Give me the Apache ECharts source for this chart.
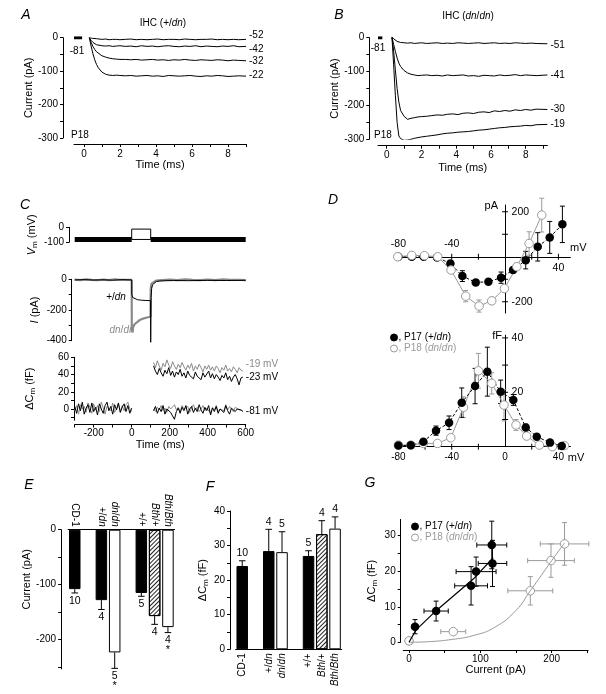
<!DOCTYPE html>
<html><head><meta charset="utf-8">
<script src="https://cdn.jsdelivr.net/npm/echarts@6/dist/echarts.min.js"></script>
<style>html,body{margin:0;padding:0;background:#fff}#c{width:606px;height:694px}</style>
</head><body><div id="c"></div>
<script>
const FF = '"Liberation Sans", Arial, sans-serif';
const BLACK = '#000', GRAY = '#8a8a8a', LGRAY = '#9a9a9a';

// ---------- Panel A (IHC +/dn) ----------
const tA = [0.3,0.4,0.5,0.6,0.7,0.8,1.0,1.2,1.4,1.6,1.8,2.0,2.3,2.6,2.9,3.2,3.5,3.8,4.1,4.4,4.7,5.0,5.3,5.6,5.9,6.2,6.5,6.8,7.1,7.4,7.7,8.0,8.3,8.6,9.0];
const aBaseT = [-0.55,-0.1], aBaseV = [0,0];
const aV52 = [0,-1,-2,-3,-3,-4,-5,-4,-6,-5,-5,-6,-5,-4,-6,-5,-6,-5,-4,-6,-5,-5,-6,-4,-5,-6,-5,-5,-4,-6,-5,-6,-5,-6,-5];
const aV42 = [0,-8,-14,-18,-21,-22,-24,-25,-24,-26,-25,-24,-26,-25,-27,-24,-26,-25,-27,-25,-24,-26,-27,-25,-26,-24,-27,-25,-26,-27,-25,-26,-24,-27,-26];
const aV32 = [0,-14,-26,-35,-42,-47,-54,-58,-61,-63,-64,-65,-65,-66,-65,-67,-66,-65,-67,-66,-68,-66,-67,-65,-67,-68,-66,-67,-68,-66,-67,-69,-67,-68,-69];
const aV22 = [0,-25,-48,-66,-80,-90,-103,-109,-112,-113,-112,-113,-114,-113,-115,-114,-113,-115,-114,-116,-113,-114,-115,-114,-113,-115,-116,-114,-115,-113,-114,-116,-115,-114,-115];
const aLabels = ['-52','-42','-32','-22'];

// ---------- Panel B (IHC dn/dn) ----------
const tB = [0.3,0.4,0.5,0.6,0.7,0.8,1.0,1.2,1.4,1.6,1.8,2.0,2.3,2.6,2.9,3.2,3.5,3.8,4.1,4.4,4.7,5.0,5.3,5.6,5.9,6.2,6.5,6.8,7.1,7.4,7.7,8.0,8.3,8.6,9.25];
const bBaseT = [-0.5,-0.25], bBaseV = [0,0];
const bV51 = [3,-3,-8,-11,-13,-14,-15,-16,-15,-17,-16,-15,-17,-16,-15,-17,-16,-17,-15,-16,-17,-16,-15,-17,-16,-15,-17,-16,-17,-15,-16,-17,-16,-17,-18];
const bV41 = [3,-20,-40,-60,-75,-85,-97,-104,-108,-110,-112,-111,-110,-112,-111,-113,-110,-112,-111,-110,-113,-112,-114,-111,-112,-113,-110,-112,-111,-109,-112,-110,-111,-112,-110];
const bV30 = [3,-40,-95,-150,-190,-215,-232,-241,-238,-236,-234,-233,-232,-230,-228,-229,-226,-225,-227,-223,-222,-224,-220,-219,-221,-216,-218,-215,-217,-213,-215,-212,-214,-211,-212];
const bV19 = [5,-80,-170,-250,-290,-298,-303,-302,-300,-297,-295,-293,-291,-289,-287,-284,-282,-281,-279,-278,-277,-275,-273,-272,-270,-268,-266,-265,-263,-262,-261,-259,-260,-257,-256];
const bLabels = ['-51','-41','-30','-19'];

const abXLabels = [0,2,4,6,8];
const abXTicks = [0,1,2,3,4,5,6,7,8,9];
const abYLabels = [0,-100,-200,-300];
const abYTicks = [0,-50,-100,-150,-200,-250,-300];

// ---------- Panel C ----------
const vmT = [-300,0,100,600];
const vmHold = -81, vmStep = -12;
const iBlackT = [-300,-250,-200,-150,-100,-50,0,0.5,5,15,30,50,75,99,100,102,105,110,118,130,160,220,300,400,500,600];
const iBlackV = [-4,-2,-5,-3,-6,-2,-4,-100,-118,-127,-133,-136,-138,-139,-410,-120,-60,-35,-22,-14,-10,-8,-9,-7,-8,-7];
const iGrayT = [-300,-270,-240,-210,-180,-150,-120,-90,-60,-30,0,0.5,3,8,15,25,40,60,80,99,100,104,110,130,160,200,240,280,320,360,400,440,480,520,560,600];
const iGrayV = [-2,-5,-1,-4,-6,-2,-5,-1,-4,-3,-4,-345,-330,-310,-293,-280,-267,-256,-249,-244,-60,-28,-16,-8,-5,-2,-5,-1,-4,-6,-2,-5,-1,-4,-3,-5];
const cmPreStart = -300, cmPostStart = 115, cmStep = 10;
const cmPreBlack = [3,-5,6,-2,8,-6,1,5,-4,7,-3,2,-7,6,0,-5,4,8,-2,3,-6,5,-1,7,-4,2,6,-3,4,-5,1];
const cmPreGray = [-2,4,-6,5,0,3,-4,7,2,-5,6,-1,4,-3,8,1,-6,3,5,-2,7,-4,0,6,-3,4,-2,5,8,0,-3];
const cmPost19 = [54,48,56,50,45,53,49,57,51,47,55,50,46,52,48,54,49,45,51,47,53,44,50,46,52,48,43,50,46,51,45,49,44,50,47,42,48,45,51,44,47,43,49,46,42,48,45,44];
const cmPost23 = [50,44,40,47,42,38,45,41,48,39,44,37,43,40,46,38,42,36,44,39,41,35,43,38,40,34,42,37,39,44,36,41,35,40,37,33,39,36,42,34,38,32,37,40,35,28,36,37];
const cmPost81b = [-2,3,-5,1,-3,4,-6,0,2,-4,-8,-12,-3,1,-5,2,-2,4,-6,0,3,-4,1,-3,5,-1,-5,2,-2,4,-7,1,-3,3,-5,0,2,-4,4,-2,-6,1,3,-3,0,2,-1,-3];
const cmPost81g = [0,-3,2,-1,4,-2,1,-4,3,0,-2,5,-1,2,-3,4,0,-2,3,-4,1,5,-1,2,-3,0,4,-2,1,3,-5,2,-1,4,-3,0,2,-2,5,-1,3,0,-3,2,4,-1,1,-2];
const cXLabels = [-200,0,200,400,600];
const cXTicks = [-300,-200,-100,0,100,200,300,400,500,600];

// ---------- Panel D ----------
const N1 = 'P17 (+/dn)', N2 = 'P18 (dn/dn)';
const dIVblackV = [-80,-70,-61,-51,-41,-32,-22,-12.5,-3,6,15.5,24.5,33.5,43];
const dIVblackI = [0,0,0,-3,-30,-86,-114,-111,-93,-59,-15,44,86,144];
const dIVblackE = [0,0,0,3,8,24,12,12,25,12,39,63,71,81];
const dIVgrayV = [-80.5,-70,-60.5,-50.5,-40.5,-29.5,-19.5,-10,-0.5,8.8,18,27.5];
const dIVgrayI = [0,6,5,0,-59,-175,-219,-196,-141,-44,59,185];
const dIVgrayE = [0,0,0,0,8,25,27,16,15,15,52,75];
const dCmBlackV = [-80,-70.7,-61.3,-51.8,-42,-32.5,-22.5,-13.3,-3.3,6.2,15.5,23.8,33.7,42.5];
const dCmBlackC = [0.4,0.5,1.8,5.9,8.8,16.2,22.3,27.6,20.2,17.2,7.1,3.7,1.5,0.3];
const dCmBlackE = [0,0,0.5,1.7,2.5,5.4,6.5,9,4.3,2,1.2,0.8,0.5,0];
const dCmGrayV = [-80,-70.7,-61.3,-50.7,-40.7,-31.2,-20,-10,-0.8,8.2,16.2,25.7,35.5,44.5];
const dCmGrayC = [0.6,0.6,1.2,1.2,3.3,14.5,27.9,23.3,15.3,8,3.9,0.6,0,0.4];
const dCmGrayE = [0,0,0,0,0.5,3.8,6.4,3.9,5.8,2,1,0.5,0,0];
// D axis ticks / tick labels
const dTopXTicks = [-40,-20,20,40];
const dTopYTicks = [-200,-100,100,200];
const dTopXLabAbove = [-80,-40];
const dTopXLabBelow = [40];
const dTopYLab = [200,-200];
const dBotXTicks = [-60,-40,-20,20,40];
const dBotXLabels = [-80,-40,0,40];
const dBotYTicks = [10,20,30,40];
const dBotYLab = [40,20];

// ---------- Panels E, F ----------
const barCats = ['CD-1',' ','+/dn','dn/dn','  ','+/+','Bth/+','Bth/Bth'];
const barFill = ['black',null,'black','white',null,'black','hatch','white'];
const eVals = [-108,'-',-128,-223,'-',-115,-157,-177];
const eErrEnd = [-115,'-',-145,-252,'-',-121,-172,-187];
const eN = ['10','','4','5','','5','4','4'];
const eStar = ['','','','*','','','','*'];
const fVals = [24.1,'-',28.4,28.1,'-',27,33.3,34.9];
const fErrEnd = [25.6,'-',34.7,34,'-',28.5,37.2,38.3];
const fN = ['10','','4','5','','5','4','4'];

// ---------- Panel G ----------
const gBlackX = [0,8.4,38,87,94,116,117];
const gBlackY = [0.4,4.4,8.8,15.9,19.9,27.4,22.2];
const gBlackXE = [0,4,17,23,28,21,20];
const gBlackYE = [0,2,2.8,5.4,4.1,6.7,6.5];
const gGrayX = [0,62,170,199,218];
const gGrayY = [0.4,3,14.5,23,27.7];
const gGrayXE = [0,17.5,31.5,32.7,34];
const gGrayYE = [0,0,4,4.7,6];
const gBlackFitX = [0,10,38,90,118];
const gBlackFitY = [0,3.5,8.9,17.8,23.8];
const gGrayFitX = [0,30,60,90,120,150,170,200,218];
const gGrayFitY = [0,0.2,0.8,1.9,4.2,9,14.5,23,28];

// ================= helpers =================
const zip = (xs, ys) => xs.map((x, i) => [x, ys[i]]);
const seq = (start, step, vals) => vals.map((v, i) => [start + i * step, v]);
function merge(a, b) {
  const out = Object.assign({}, a);
  for (const k in b) {
    const bv = b[k];
    if (bv && typeof bv === 'object' && !Array.isArray(bv) && a && a[k] && typeof a[k] === 'object' && !Array.isArray(a[k])) out[k] = merge(a[k], bv);
    else out[k] = bv;
  }
  return out;
}
const RN = {
  i: {fontStyle: 'italic', fontSize: 11, fontFamily: FF, color: '#000'},
  s: {fontSize: 8, fontFamily: FF, color: '#000', padding: [6, 0, 0, 0]}
};
const AX = {
  type: 'value',
  axisLine: {show: true, onZero: false, lineStyle: {color: '#000', width: 1}},
  axisTick: {show: true, length: 3, lineStyle: {color: '#000', width: 1}},
  axisLabel: {color: '#000', fontSize: 10, fontFamily: FF},
  splitLine: {show: false},
  nameTextStyle: {color: '#000', fontSize: 11, fontFamily: FF, rich: RN}
};
const ax = o => merge(AX, o);
const LST = {stroke: '#000', lineWidth: 1};

function errRender(color, cap) {
  return function (params, api) {
    const x = api.value(0), y = api.value(1), ye = api.value(2), xe = api.value(3);
    const st = {stroke: color, lineWidth: 1};
    const ch = [];
    if (ye > 0) {
      const a = api.coord([x, y - ye]), b = api.coord([x, y + ye]);
      ch.push({type: 'line', shape: {x1: a[0], y1: a[1], x2: b[0], y2: b[1]}, style: st});
      ch.push({type: 'line', shape: {x1: a[0] - cap, y1: a[1], x2: a[0] + cap, y2: a[1]}, style: st});
      ch.push({type: 'line', shape: {x1: b[0] - cap, y1: b[1], x2: b[0] + cap, y2: b[1]}, style: st});
    }
    if (xe > 0) {
      const a = api.coord([x - xe, y]), b = api.coord([x + xe, y]);
      ch.push({type: 'line', shape: {x1: a[0], y1: a[1], x2: b[0], y2: b[1]}, style: st});
      ch.push({type: 'line', shape: {x1: a[0], y1: a[1] - cap, x2: a[0], y2: a[1] + cap}, style: st});
      ch.push({type: 'line', shape: {x1: b[0], y1: b[1] - cap, x2: b[0], y2: b[1] + cap}, style: st});
    }
    return {type: 'group', children: ch};
  };
}
function barErr(nLab, stars, down) {
  return function (params, api) {
    const i = api.value(0), v = api.value(1), e = api.value(2);
    const p1 = api.coord([i, v]), p2 = api.coord([i, e]);
    const ch = [
      {type: 'line', shape: {x1: p1[0], y1: p1[1], x2: p2[0], y2: p2[1]}, style: LST},
      {type: 'line', shape: {x1: p2[0] - 3.3, y1: p2[1], x2: p2[0] + 3.3, y2: p2[1]}, style: LST},
      {type: 'text', x: p2[0], y: p2[1] + (down ? 8 : -7.5), style: {text: nLab[i], fill: '#000', fontSize: 10.5, fontFamily: FF, align: 'center', verticalAlign: 'middle'}}
    ];
    if (stars[i]) ch.push({type: 'text', x: p2[0], y: p2[1] + 17.5, style: {text: stars[i], fill: '#000', fontSize: 11, fontFamily: FF, align: 'center', verticalAlign: 'middle'}});
    return {type: 'group', children: ch};
  };
}
// crossing tick marks and tick labels for the zero-crossing axes of panel D
function decoSeries(xi, yi, vals, kind) {
  const isX = kind[0] === 'x';
  return {type: 'custom', xAxisIndex: xi, yAxisIndex: yi, silent: true, z: 3,
    data: vals.map(v => isX ? [v, 0] : [0, v]),
    renderItem: function (params, api) {
      const xv = api.value(0), yv = api.value(1);
      const p = api.coord([xv, yv]);
      const t = String(isX ? xv : yv);
      const ts = {text: t, fill: '#000', fontSize: 10.5, fontFamily: FF};
      if (kind === 'xTick') return {type: 'line', shape: {x1: p[0], y1: p[1] - 3, x2: p[0], y2: p[1] + 3}, style: LST};
      if (kind === 'yTick') return {type: 'line', shape: {x1: p[0] - 3, y1: p[1], x2: p[0] + 3, y2: p[1]}, style: LST};
      if (kind === 'xAbove') return {type: 'text', x: p[0], y: p[1] - 13, style: Object.assign(ts, {align: 'center', verticalAlign: 'middle'})};
      if (kind === 'xBelow') return {type: 'text', x: p[0], y: p[1] + 11.5, style: Object.assign(ts, {align: 'center', verticalAlign: 'middle'})};
      return {type: 'text', x: p[0] + 6.5, y: p[1], style: Object.assign(ts, {align: 'left', verticalAlign: 'middle'})};
    }};
}
const BARSTY = {
  black: {color: '#000', borderColor: '#000', borderWidth: 1},
  white: {color: '#fff', borderColor: '#000', borderWidth: 1},
  hatch: {color: '#fff', borderColor: '#000', borderWidth: 1,
    decal: {symbol: 'rect', symbolSize: 1, dashArrayX: [1, 0], dashArrayY: [1, 1.6], rotation: -Math.PI / 4, color: '#222'}}
};
const catFmt = v => ({'+/dn': '+/{i|dn}', 'dn/dn': '{i|dn}/{i|dn}', 'Bth/+': '{i|Bth}/+', 'Bth/Bth': '{i|Bth}/{i|Bth}'}[v] || v);
const RC = {i: {fontStyle: 'italic', fontSize: 10, fontFamily: FF, color: '#000'}};

function line(xi, yi, data, color, width, extra) {
  return Object.assign({type: 'line', xAxisIndex: xi, yAxisIndex: yi, data, symbol: 'none', silent: true,
    lineStyle: {color, width}, animation: false}, extra || {});
}
function endLab(text, color, dy) {
  return {endLabel: {show: true, formatter: text, color, fontSize: 10, fontFamily: FF, distance: 3, offset: [0, dy]}};
}
function txt(text, x, y, o) {
  o = o || {};
  const size = o.size || 10, color = o.color || '#000';
  return {type: 'text', x, y, silent: true, style: {text, fill: color, fontSize: size, fontFamily: FF,
    fontStyle: o.italic ? 'italic' : 'normal', align: o.align || 'center', verticalAlign: 'middle',
    rich: {i: {fontStyle: 'italic', fontSize: size, fontFamily: FF, fill: color}}}};
}

// ================= series =================
const series = [];
// A
series.push(line(0, 0, zip(aBaseT, aBaseV), BLACK, 3));
[aV52, aV42, aV32, aV22].forEach((v, k) => series.push(line(0, 0, zip(tA, v), BLACK, 1, endLab(aLabels[k], BLACK, [-4, 3, 0, -1][k]))));
// B
series.push(line(1, 1, zip(bBaseT, bBaseV), BLACK, 3));
[bV51, bV41, bV30, bV19].forEach((v, k) => series.push(line(1, 1, zip(tB, v), BLACK, 1, endLab(bLabels[k], BLACK, [1, 0, 0, 0][k]))));
// C - Vm
series.push(line(2, 2, [[vmT[0], vmHold], [vmT[1], vmHold]], BLACK, 5));
series.push(line(2, 2, [[vmT[2], vmHold], [vmT[3], vmHold]], BLACK, 5));
series.push(line(2, 2, [[vmT[1], vmHold], [vmT[1], vmStep], [vmT[2], vmStep], [vmT[2], vmHold]], BLACK, 1));
series.push(line(2, 2, [[vmT[1], vmHold], [vmT[2], vmHold]], BLACK, 1));
// C - I
series.push(line(3, 3, zip(iGrayT, iGrayV), GRAY, 2.2, {clip: false}));
series.push(line(3, 3, zip(iBlackT, iBlackV), BLACK, 1, {clip: false}));
// C - Cm
series.push(line(4, 4, seq(cmPreStart, cmStep, cmPreGray), GRAY, 1));
series.push(line(4, 4, seq(cmPreStart, cmStep, cmPreBlack), BLACK, 1));
series.push(line(4, 4, seq(cmPostStart, cmStep, cmPost19), GRAY, 1, endLab('-19 mV', GRAY, -7)));
series.push(line(4, 4, seq(cmPostStart, cmStep, cmPost23), BLACK, 1, endLab('-23 mV', BLACK, 0)));
series.push(line(4, 4, seq(cmPostStart, cmStep, cmPost81g), GRAY, 1));
series.push(line(4, 4, seq(cmPostStart, cmStep, cmPost81b), BLACK, 1, endLab('-81 mV', BLACK, 0)));
// D - IV
const blackPts = {symbol: 'circle', symbolSize: 8.5, itemStyle: {color: '#000'}, clip: false};
const grayPts = {symbol: 'circle', symbolSize: 8.5, itemStyle: {color: '#fff', borderColor: LGRAY, borderWidth: 1}, clip: false};
series.push(decoSeries(5, 5, dTopXTicks, 'xTick'));
series.push(decoSeries(5, 5, dTopYTicks, 'yTick'));
series.push(decoSeries(5, 5, dTopXLabAbove, 'xAbove'));
series.push(decoSeries(5, 5, dTopXLabBelow, 'xBelow'));
series.push(decoSeries(5, 5, dTopYLab, 'yRight'));
series.push({type: 'custom', xAxisIndex: 5, yAxisIndex: 5, z: 1, silent: true, renderItem: errRender(LGRAY, 2.5), data: dIVgrayV.map((v, i) => [v, dIVgrayI[i], dIVgrayE[i], 0])});
series.push({type: 'custom', xAxisIndex: 5, yAxisIndex: 5, z: 1, silent: true, renderItem: errRender(BLACK, 2.5), data: dIVblackV.map((v, i) => [v, dIVblackI[i], dIVblackE[i], 0])});
series.push(Object.assign(line(5, 5, zip(dIVblackV, dIVblackI), BLACK, 1), blackPts, {name: N1, lineStyle: {color: BLACK, width: 1, type: [3, 2]}}));
series.push(Object.assign(line(5, 5, zip(dIVgrayV, dIVgrayI), LGRAY, 1), grayPts, {name: N2}));
// D - Cm
series.push(decoSeries(7, 7, dBotXTicks, 'xTick'));
series.push(decoSeries(7, 7, dBotYTicks, 'yTick'));
series.push(decoSeries(7, 7, dBotYLab, 'yRight'));
series.push({type: 'custom', xAxisIndex: 7, yAxisIndex: 7, z: 1, silent: true, renderItem: errRender(LGRAY, 2.5), data: dCmGrayV.map((v, i) => [v, dCmGrayC[i], dCmGrayE[i], 0])});
series.push({type: 'custom', xAxisIndex: 7, yAxisIndex: 7, z: 1, silent: true, renderItem: errRender(BLACK, 2.5), data: dCmBlackV.map((v, i) => [v, dCmBlackC[i], dCmBlackE[i], 0])});
series.push(Object.assign(line(7, 7, zip(dCmGrayV, dCmGrayC), LGRAY, 1), grayPts, {name: N2}));
series.push(Object.assign(line(7, 7, zip(dCmBlackV, dCmBlackC), BLACK, 1), blackPts, {name: N1, lineStyle: {color: BLACK, width: 1, type: [3, 2]}}));
// E
series.push({type: 'bar', xAxisIndex: 9, yAxisIndex: 9, barWidth: 11.5, silent: true, animation: false,
  data: eVals.map((v, i) => v === '-' ? '-' : {value: v, itemStyle: BARSTY[barFill[i]]})});
series.push({type: 'custom', xAxisIndex: 9, yAxisIndex: 9, silent: true, renderItem: barErr(eN, eStar, true),
  data: eVals.map((v, i) => [i, v, eErrEnd[i]]).filter(d => d[1] !== '-')});
// F
series.push({type: 'bar', xAxisIndex: 10, yAxisIndex: 10, barWidth: 11.5, silent: true, animation: false,
  data: fVals.map((v, i) => v === '-' ? '-' : {value: v, itemStyle: BARSTY[barFill[i]]})});
series.push({type: 'custom', xAxisIndex: 10, yAxisIndex: 10, silent: true, renderItem: barErr(fN, ['', '', '', '', '', '', '', ''], false),
  data: fVals.map((v, i) => [i, v, fErrEnd[i]]).filter(d => d[1] !== '-')});
// G
series.push(line(11, 11, zip(gGrayFitX, gGrayFitY), LGRAY, 1, {smooth: true, clip: false}));
series.push(line(11, 11, zip(gBlackFitX, gBlackFitY), BLACK, 1.2, {clip: false}));
series.push({type: 'custom', xAxisIndex: 11, yAxisIndex: 11, z: 1, silent: true, renderItem: errRender(LGRAY, 2.5), data: gGrayX.map((v, i) => [v, gGrayY[i], gGrayYE[i], gGrayXE[i]])});
series.push({type: 'custom', xAxisIndex: 11, yAxisIndex: 11, z: 1, silent: true, renderItem: errRender(BLACK, 2.5), data: gBlackX.map((v, i) => [v, gBlackY[i], gBlackYE[i], gBlackXE[i]])});
series.push({type: 'scatter', name: N1, xAxisIndex: 11, yAxisIndex: 11, data: zip(gBlackX, gBlackY), symbolSize: 8.5, silent: true, clip: false, itemStyle: {color: '#000', opacity: 1}});
series.push({type: 'scatter', name: N2, xAxisIndex: 11, yAxisIndex: 11, data: zip(gGrayX, gGrayY), symbolSize: 8.5, silent: true, clip: false, itemStyle: {color: '#fff', borderColor: LGRAY, borderWidth: 1, opacity: 1}});

const legendBase = {
  orient: 'vertical', itemWidth: 7, itemHeight: 7, itemGap: 0, selectedMode: false,
  textStyle: {fontSize: 10, fontFamily: FF, color: '#000', lineHeight: 11, padding: [0, 0, 0, -4],
    rich: {i: {fontStyle: 'italic', fontSize: 10, fontFamily: FF, color: '#000'}, g: {fontStyle: 'italic', fontSize: 10, fontFamily: FF, color: LGRAY}}},
  formatter: n => n === N1 ? ', P17 (+/{i|dn})' : ', P18 ({g|dn}/{g|dn})',
  data: [
    {name: N1, icon: 'circle', itemStyle: {color: '#000', borderColor: '#000', borderWidth: 1}},
    {name: N2, icon: 'circle', itemStyle: {color: '#fff', borderColor: LGRAY, borderWidth: 1}, textStyle: {color: LGRAY}}
  ]
};

const hiddenAx = g => ax({gridIndex: g, show: false, min: -1, max: 1});

const option = {
  animation: false,
  backgroundColor: '#fff',
  textStyle: {fontFamily: FF},
  legend: [Object.assign({}, legendBase, {left: 385, top: 327}), Object.assign({}, legendBase, {left: 406, top: 516})],
  grid: [
    {left: 74, top: 37.7, width: 172, height: 100.3},
    {left: 378, top: 37.7, width: 169.4, height: 101.6},
    {left: 74.7, top: 227.3, width: 171, height: 15},
    {left: 74.7, top: 279.3, width: 171, height: 61.4},
    {left: 74.7, top: 357.3, width: 171, height: 62.9},
    {left: 394.4, top: 205, width: 176, height: 108},
    {left: 394.4, top: 335.2, width: 176, height: 111.5},
    {left: 68.1, top: 529.7, width: 106.5, height: 139.2},
    {left: 235.6, top: 511, width: 106.1, height: 138.3},
    {left: 403.3, top: 519.4, width: 184.8, height: 122.9}
  ].map(g => Object.assign(g, {containLabel: false, outerBoundsMode: 'none'})),
  xAxis: [
    ax({gridIndex: 0, min: -0.55, max: 9, position: 'bottom', offset: 6, axisLabel: {customValues: abXLabels, margin: 5}, axisTick: {customValues: abXTicks}, name: 'Time (ms)', nameLocation: 'middle', nameGap: 13}),
    ax({gridIndex: 1, min: -0.5, max: 9.25, position: 'bottom', offset: 6.4, axisLabel: {customValues: abXLabels, margin: 5}, axisTick: {customValues: abXTicks}, name: 'Time (ms)', nameLocation: 'middle', nameGap: 17}),
    ax({gridIndex: 2, min: -300, max: 600, show: false}),
    ax({gridIndex: 3, min: -300, max: 600, show: false}),
    ax({gridIndex: 4, min: -300, max: 600, position: 'bottom', offset: 4.3, axisLabel: {customValues: cXLabels, margin: 4}, axisTick: {customValues: cXTicks}, name: 'Time (ms)', nameLocation: 'middle', nameGap: 9}),
    ax({gridIndex: 5, min: -83, max: 49, position: 'bottom', axisLine: {onZero: true, onZeroAxisIndex: 5}, axisLabel: {show: false}, axisTick: {show: false}}),
    hiddenAx(5),
    ax({gridIndex: 6, min: -83, max: 49, position: 'bottom', axisLine: {onZero: true, onZeroAxisIndex: 7}, axisLabel: {customValues: dBotXLabels, margin: 6}, axisTick: {show: false}, name: 'mV', nameLocation: 'end', nameGap: 4, nameTextStyle: {align: 'center', verticalAlign: 'top', padding: [6, 0, 0, 0]}}),
    hiddenAx(6),
    ax({gridIndex: 7, type: 'category', data: barCats, position: 'top', axisTick: {show: false}, axisLabel: {rotate: 90, margin: 3, interval: 0, formatter: catFmt, rich: RC}}),
    ax({gridIndex: 8, type: 'category', data: barCats, position: 'bottom', axisTick: {show: false}, axisLabel: {rotate: 90, margin: 4, interval: 0, formatter: catFmt, rich: RC}}),
    ax({gridIndex: 9, min: -8, max: 251, position: 'bottom', offset: 7.7, axisLabel: {customValues: [0, 100, 200], margin: 4}, axisTick: {customValues: [0, 50, 100, 150, 200, 250]}, name: 'Current (pA)', nameLocation: 'middle', nameGap: 10})
  ],
  yAxis: [
    ax({gridIndex: 0, min: -300, max: 0, offset: 11, axisLabel: {customValues: abYLabels, margin: 5}, axisTick: {customValues: abYTicks}, name: 'Current (pA)', nameLocation: 'middle', nameGap: 27}),
    ax({gridIndex: 1, min: -300, max: 0, offset: 8.7, axisLabel: {customValues: abYLabels, margin: 5}, axisTick: {customValues: abYTicks}, name: 'Current (pA)', nameLocation: 'middle', nameGap: 27}),
    ax({gridIndex: 2, min: -100, max: 0, offset: 5.7, axisLabel: {customValues: [0, -100], margin: 5}, axisTick: {customValues: [0, -100]}, name: '{i|V}{s|m} (mV)', nameLocation: 'middle', nameGap: 30}),
    ax({gridIndex: 3, min: -400, max: 0, offset: 3, axisLabel: {customValues: [0, -200, -400], margin: 5}, axisTick: {customValues: [0, -100, -200, -300, -400]}, name: '{i|I} (pA)', nameLocation: 'middle', nameGap: 31}),
    ax({gridIndex: 4, min: -13, max: 60, offset: 0.7, axisLabel: {customValues: [0, 20, 40, 60], margin: 5}, axisTick: {customValues: [-10, 0, 10, 20, 30, 40, 50, 60]}, name: 'ΔC{s|m} (fF)', nameLocation: 'middle', nameGap: 37}),
    ax({gridIndex: 5, min: -250, max: 230, position: 'left', axisLine: {onZero: true, onZeroAxisIndex: 5}, axisLabel: {show: false}, axisTick: {show: false}}),
    hiddenAx(5),
    ax({gridIndex: 6, min: 0, max: 41, position: 'left', axisLine: {onZero: true, onZeroAxisIndex: 7}, axisLabel: {show: false}, axisTick: {show: false}}),
    hiddenAx(6),
    ax({gridIndex: 7, min: -253, max: 0, offset: 7, axisLabel: {customValues: [0, -100, -200], margin: 5}, axisTick: {customValues: [0, -50, -100, -150, -200, -250]}, name: 'Current (pA)', nameLocation: 'middle', nameGap: 24, nameTextStyle: {padding: [0, 0, 0, 40]}}),
    ax({gridIndex: 8, min: 0, max: 40, offset: 5.6, axisLabel: {customValues: [0, 10, 20, 30, 40], margin: 5}, axisTick: {customValues: [0, 5, 10, 15, 20, 25, 30, 35, 40]}, name: 'ΔC{s|m} (fF)', nameLocation: 'middle', nameGap: 19}),
    ax({gridIndex: 9, min: 0, max: 34.6, offset: 2.6, axisLabel: {customValues: [0, 10, 20, 30], margin: 5}, axisTick: {customValues: [0, 5, 10, 15, 20, 25, 30]}, name: 'ΔC{s|m} (fF)', nameLocation: 'middle', nameGap: 22})
  ],
  graphic: {elements: [
    txt('A', 26, 15, {size: 14, italic: true}),
    txt('B', 339, 15, {size: 14, italic: true}),
    txt('C', 25, 205, {size: 14, italic: true}),
    txt('D', 333, 200, {size: 14, italic: true}),
    txt('E', 29, 485, {size: 14, italic: true}),
    txt('F', 210, 487, {size: 14, italic: true}),
    txt('G', 370, 483, {size: 14, italic: true}),
    txt('IHC (+/{i|dn})', 163, 23),
    txt('IHC ({i|dn}/{i|dn})', 468, 16),
    txt('-81', 77, 51),
    txt('-81', 378, 48),
    txt('P18', 80, 135),
    txt('P18', 383, 135),
    txt('+/{i|dn}', 116, 297),
    txt('{i|dn}/{i|dn}', 122, 330, {color: GRAY}),
    txt('pA', 498, 206, {size: 11, align: 'right'}),
    txt('mV', 570, 248, {size: 11, align: 'left'}),
    txt('fF', 502, 336, {size: 11, align: 'right'})
  ]},
  series
};
const chart = echarts.init(document.getElementById('c'), null, {renderer: 'canvas'});
chart.setOption(option);
</script></body></html>
